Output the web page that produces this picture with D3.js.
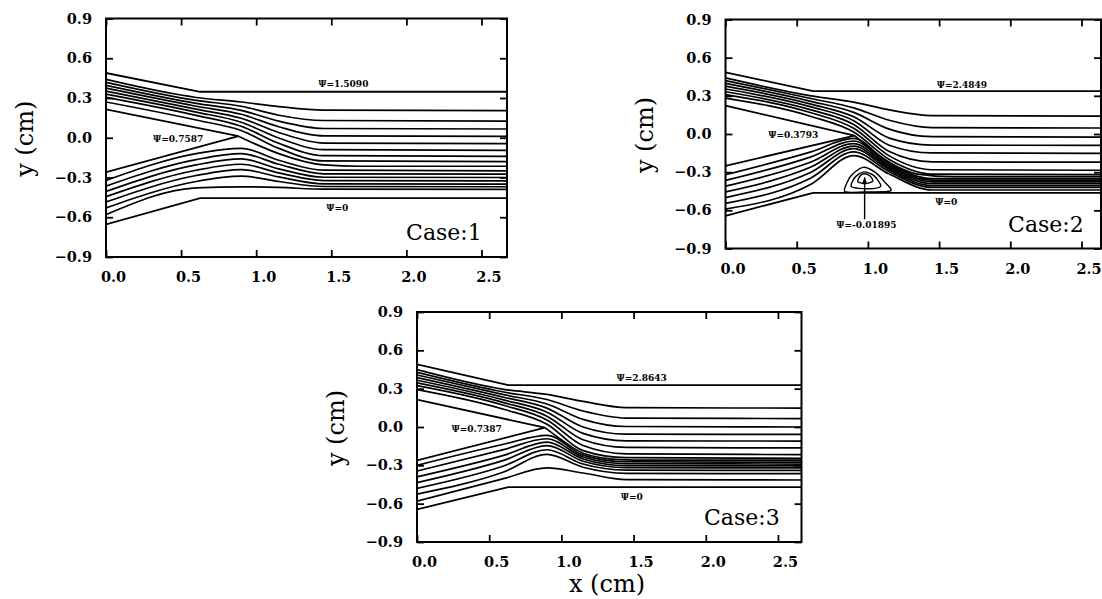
<!DOCTYPE html>
<html>
<head>
<meta charset="utf-8">
<script src="https://cdn.jsdelivr.net/npm/d3@7"></script>
<style>
  body { margin: 0; background: #fff; }
</style>
</head>
<body>
<script>
var stationsX = [0, 0.6, 0.9, 1.15, 1.45, 2.7];

var xTicks = [0.0, 0.5, 1.0, 1.5, 2.0, 2.5];
var yTicks = [-0.9, -0.6, -0.3, 0.0, 0.3, 0.6, 0.9];

// ---- Case 1 ----
var case1TopWall = [[0, 0.489], [0.627, 0.347], [2.7, 0.347]];
var case1BottomWall = [[0, -0.654], [0.627, -0.455], [2.7, -0.455]];
var case1Splitter = [[0, 0.215], [0.882, 0.012], [0, -0.26]];
// y at each station, one row per streamline
var case1Upper = [
  [0.440, 0.304, 0.270, 0.235, 0.208, 0.205],
  [0.418, 0.282, 0.238, 0.170, 0.130, 0.126],
  [0.396, 0.260, 0.207, 0.125, 0.070, 0.066],
  [0.374, 0.238, 0.177, 0.083, 0.014, 0.010],
  [0.352, 0.216, 0.147, 0.040, -0.040, -0.045],
  [0.330, 0.194, 0.117, -0.002, -0.090, -0.095],
  [0.305, 0.169, 0.087, -0.042, -0.135, -0.140],
  [0.270, 0.134, 0.055, -0.080, -0.175, -0.180]
];
var case1Lower = [
  [-0.322, -0.120, -0.080, -0.170, -0.245, -0.250],
  [-0.365, -0.165, -0.120, -0.200, -0.272, -0.275],
  [-0.405, -0.205, -0.160, -0.235, -0.298, -0.300],
  [-0.445, -0.245, -0.200, -0.265, -0.323, -0.325],
  [-0.485, -0.285, -0.240, -0.295, -0.348, -0.350],
  [-0.530, -0.330, -0.290, -0.330, -0.368, -0.370],
  [-0.580, -0.378, -0.370, -0.375, -0.388, -0.390]
];
var case1Divide = [[0.882, 0.012], [1.0, -0.05], [1.15, -0.12], [1.45, -0.205], [1.7, -0.215], [2.7, -0.215]];
var case1Labels = [["Ψ=1.5090", 1.58, 0.405], ["Ψ=0.7587", 0.48, -0.008], ["Ψ=0", 1.54, -0.528]];

// ---- Case 2 ----
var case2TopWall = [[0, 0.485], [0.615, 0.337], [2.7, 0.337]];
var case2BottomWall = [[0, -0.643], [0.615, -0.462], [2.7, -0.462]];
var case2Splitter = [[0, 0.223], [0.907, -0.013], [0, -0.25]];
var case2Upper = [
  [0.441, 0.300, 0.250, 0.190, 0.145, 0.140],
  [0.420, 0.279, 0.205, 0.108, 0.050, 0.047],
  [0.398, 0.257, 0.170, 0.038, -0.021, -0.024],
  [0.376, 0.235, 0.135, -0.032, -0.087, -0.090],
  [0.354, 0.213, 0.105, -0.088, -0.149, -0.152],
  [0.332, 0.190, 0.075, -0.138, -0.219, -0.222],
  [0.310, 0.167, 0.045, -0.172, -0.281, -0.285],
  [0.282, 0.138, 0.015, -0.200, -0.315, -0.320]
];
var case2Lower = [
  [-0.320, -0.140, -0.035, -0.235, -0.350, -0.350],
  [-0.365, -0.180, -0.055, -0.247, -0.363, -0.363],
  [-0.410, -0.220, -0.075, -0.259, -0.376, -0.376],
  [-0.455, -0.260, -0.095, -0.271, -0.390, -0.390],
  [-0.500, -0.300, -0.115, -0.283, -0.405, -0.405],
  [-0.545, -0.345, -0.140, -0.297, -0.420, -0.420],
  [-0.590, -0.395, -0.170, -0.315, -0.440, -0.440]
];
var case2Divide = [[0.907, -0.013], [1.0, -0.1], [1.15, -0.222], [1.35, -0.315], [1.6, -0.335], [2.7, -0.335]];
// recirculation bubble contours
var case2Bubble = [
  [[0.835, -0.435], [0.88, -0.33], [0.965, -0.262], [1.05, -0.3], [1.12, -0.38], [1.16, -0.447], [1.0, -0.455], [0.86, -0.458]],
  [[0.885, -0.415], [0.91, -0.34], [0.97, -0.298], [1.04, -0.325], [1.09, -0.41], [1.0, -0.43]],
  [[0.93, -0.375], [0.945, -0.33], [0.975, -0.313], [1.015, -0.33], [1.035, -0.37], [0.985, -0.39]]
];
var case2Pointer = [[0.977, -0.67], [0.977, -0.34]];
var case2Labels = [["Ψ=2.4849", 1.66, 0.388], ["Ψ=0.3793", 0.476, -0.006], ["Ψ=0", 1.55, -0.53], ["Ψ=-0.01895", 0.99, -0.714]];

// ---- Case 3 ----
var case3TopWall = [[0, 0.491], [0.632, 0.327], [2.7, 0.327]];
var case3BottomWall = [[0, -0.645], [0.632, -0.47], [2.7, -0.47]];
var case3Splitter = [[0, 0.214], [0.886, -0.005], [0, -0.261]];
var case3Upper = [
  [0.449, 0.295, 0.255, 0.200, 0.152, 0.148],
  [0.428, 0.274, 0.215, 0.125, 0.070, 0.066],
  [0.407, 0.253, 0.180, 0.060, 0.004, 0.000],
  [0.387, 0.233, 0.148, 0.000, -0.056, -0.058],
  [0.366, 0.212, 0.116, -0.050, -0.108, -0.110],
  [0.345, 0.191, 0.085, -0.100, -0.160, -0.164],
  [0.324, 0.170, 0.055, -0.145, -0.210, -0.216],
  [0.293, 0.139, 0.022, -0.185, -0.240, -0.245]
];
var case3Lower = [
  [-0.300, -0.135, -0.065, -0.220, -0.272, -0.275],
  [-0.345, -0.177, -0.092, -0.235, -0.287, -0.290],
  [-0.390, -0.222, -0.118, -0.250, -0.302, -0.305],
  [-0.435, -0.261, -0.145, -0.268, -0.318, -0.320],
  [-0.480, -0.305, -0.178, -0.290, -0.338, -0.340],
  [-0.525, -0.352, -0.215, -0.315, -0.363, -0.365],
  [-0.580, -0.404, -0.320, -0.360, -0.412, -0.415]
];
var case3Divide = [[0.886, -0.005], [1.0, -0.1], [1.15, -0.205], [1.4, -0.255], [1.6, -0.26], [2.7, -0.26]];
var case3Labels = [["Ψ=2.8643", 1.556, 0.387], ["Ψ=0.7387", 0.413, -0.013], ["Ψ=0", 1.487, -0.548]];

var caseNames = ["Case:1", "Case:2", "Case:3"];


var w = 1102;
var h = 599;

var svg = d3.select("body").append("svg")
    .attr("width", w)
    .attr("height", h)
    .style("display", "block");

// panel boxes in pixels
var panels = [
  {left: 106, right: 507, top: 18.5, bottom: 257, xMax: 2.67,
   top_: case1TopWall, bot: case1BottomWall, split: case1Splitter,
   upper: case1Upper, lower: case1Lower, divide: case1Divide, labels: case1Labels},
  {left: 725.5, right: 1101, top: 19.5, bottom: 248.5, xMax: 2.637,
   top_: case2TopWall, bot: case2BottomWall, split: case2Splitter,
   upper: case2Upper, lower: case2Lower, divide: case2Divide, labels: case2Labels,
   bubble: case2Bubble, pointer: case2Pointer},
  {left: 417, right: 801.5, top: 312, bottom: 542, xMax: 2.663,
   top_: case3TopWall, bot: case3BottomWall, split: case3Splitter,
   upper: case3Upper, lower: case3Lower, divide: case3Divide, labels: case3Labels}
];

var serif = "'DejaVu Serif', 'Liberation Serif', serif";

panels.forEach(function(p, i) {
    var x = d3.scaleLinear().domain([0, p.xMax]).range([p.left, p.right]);
    var y = d3.scaleLinear().domain([-0.9, 0.9]).range([p.bottom, p.top]);

    var g = svg.append("g");

    g.append("clipPath").attr("id", "clip" + i)
      .append("rect")
        .attr("x", p.left).attr("y", p.top)
        .attr("width", p.right - p.left).attr("height", p.bottom - p.top);

    var plot = g.append("g").attr("clip-path", "url(#clip" + i + ")");

    var straight = d3.line().x(d => x(d[0])).y(d => y(d[1]));
    var smooth = d3.line().x(d => x(d[0])).y(d => y(d[1])).curve(d3.curveMonotoneX);
    var closed = d3.line().x(d => x(d[0])).y(d => y(d[1])).curve(d3.curveCardinalClosed.tension(0.2));

    // walls and splitter plate
    [p.top_, p.bot, p.split].forEach(function(wall) {
        plot.append("path")
            .attr("d", straight(wall))
            .attr("fill", "none")
            .attr("stroke", "#000")
            .attr("stroke-width", 1.8);
    });

    // streamlines
    var rows = p.upper.concat(p.lower).map(r => r.map((v, k) => [stationsX[k], v]));
    rows.push(p.divide);
    plot.selectAll(".stream").data(rows)
      .enter().append("path")
        .attr("class", "stream")
        .attr("d", smooth)
        .attr("fill", "none")
        .attr("stroke", "#000")
        .attr("stroke-width", 1.7);

    if (p.bubble) {
        plot.selectAll(".bubble").data(p.bubble)
          .enter().append("path")
            .attr("d", closed)
            .attr("fill", "none")
            .attr("stroke", "#000")
            .attr("stroke-width", 1.4);
        plot.append("path")
            .attr("d", straight(p.pointer))
            .attr("stroke", "#000")
            .attr("stroke-width", 1.4);
        var tip = p.pointer[1];
        plot.append("path")
            .attr("d", "M" + x(tip[0]) + "," + y(tip[1]) + "l-2.5,6l5,0z")
            .attr("fill", "#000");
    }

    // psi labels
    g.selectAll(".psi").data(p.labels)
      .enter().append("text")
        .attr("x", d => x(d[1]))
        .attr("y", d => y(d[2]))
        .attr("dy", "0.35em")
        .attr("text-anchor", "middle")
        .style("font-family", serif)
        .style("font-weight", "bold")
        .style("font-size", "9px")
        .style("fill", "#000")
        .text(d => d[0]);

    // case name
    g.append("text")
        .attr("x", x(2.25))
        .attr("y", y(-0.71))
        .attr("dy", "0.35em")
        .attr("text-anchor", "middle")
        .style("font-family", serif)
        .style("font-size", "22px")
        .text(caseNames[i]);

    // frame
    g.append("rect")
        .attr("x", p.left).attr("y", p.top)
        .attr("width", p.right - p.left).attr("height", p.bottom - p.top)
        .attr("fill", "none")
        .attr("stroke", "#000")
        .attr("stroke-width", 2);

    var fmt = d3.format(".1f");

    var bottomAxis = g.append("g")
        .attr("transform", "translate(0," + p.bottom + ")")
        .call(d3.axisBottom(x).tickValues(xTicks).tickSize(-7).tickPadding(15).tickFormat(fmt));
    var topAxis = g.append("g")
        .attr("transform", "translate(0," + p.top + ")")
        .call(d3.axisTop(x).tickValues(xTicks).tickSize(-7).tickFormat(""));
    var leftAxis = g.append("g")
        .attr("transform", "translate(" + p.left + ",0)")
        .call(d3.axisLeft(y).tickValues(yTicks).tickSize(-7).tickPadding(14).tickFormat(fmt));
    var rightAxis = g.append("g")
        .attr("transform", "translate(" + p.right + ",0)")
        .call(d3.axisRight(y).tickValues(yTicks).tickSize(-7).tickFormat(""));

    [bottomAxis, topAxis, leftAxis, rightAxis].forEach(function(a) {
        a.select(".domain").remove();
        a.selectAll("line").attr("stroke", "#000").attr("stroke-width", 1.8);
        a.selectAll("text")
            .style("font-family", serif)
            .style("font-weight", "bold")
            .style("font-size", "14.5px")
            .style("fill", "#000");
    });
    bottomAxis.selectAll("text").attr("dx", 7);

    // y axis title
    g.append("text")
        .attr("transform", "translate(" + (p.left - 80) + "," + (y(0) + 1) + ") rotate(-90)")
        .attr("dy", "0.3em")
        .attr("text-anchor", "middle")
        .style("font-family", serif)
        .style("font-size", "24px")
        .text("y (cm)");

    if (i == 2) {
        g.append("text")
            .attr("x", 607)
            .attr("y", 592)
            .attr("text-anchor", "middle")
            .style("font-family", serif)
            .style("font-size", "24px")
            .text("x (cm)");
    }
});
</script>
</body>
</html>
